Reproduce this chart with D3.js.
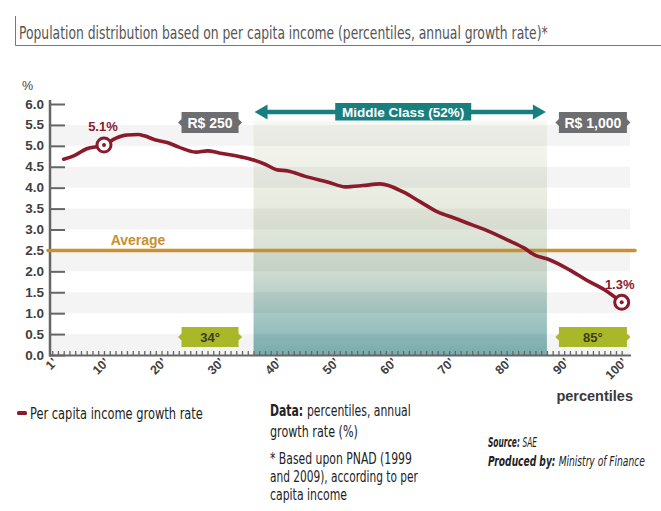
<!DOCTYPE html>
<html><head><meta charset="utf-8">
<script src="https://cdn.jsdelivr.net/npm/d3@7"></script>
<style>body{margin:0;background:#fff} svg{display:block}</style>
</head><body>
<svg id="c" width="661" height="511"></svg>
<script>
// ---- data ----
const percentiles = [3,5,7,10,12,14,16,17,19,21,23,26,28,30,34,36,38,40,42,45,49,52,55,58,62,65,68,71,74,76,80,83,85,87,91,94,97,100];
const growthRate  = [4.68,4.78,4.93,5.02,5.18,5.26,5.27,5.24,5.14,5.08,4.97,4.85,4.88,4.83,4.73,4.66,4.56,4.43,4.40,4.27,4.13,4.02,4.05,4.09,3.90,3.66,3.42,3.27,3.11,3.01,2.76,2.56,2.38,2.30,2.03,1.78,1.56,1.26];
const yTicks = [0,0.5,1,1.5,2,2.5,3,3.5,4,4.5,5,5.5,6];
const xTickLabels = [1,10,20,30,40,50,60,70,80,90,100];
const averageValue = 2.5;
const middleClassRange = [36, 87];
const highlightPercentiles = [10, 100];
const highlightLabels = ["5.1%", "1.3%"];
const incomeLabels = ["R$ 250", "R$ 1,000"];
const percentileLabels = ["34\u00b0", "85\u00b0"];

const NARROW = "'Liberation Sans Narrow','DejaVu Sans Condensed','Arial Narrow',sans-serif";
const BOLD = "'Liberation Sans',Arial,sans-serif";
const RED = "#8b1a2b", TEAL = "#17807f", GOLD = "#c8902e", AX = "#666";

const svg = d3.select("#c");
const x = d3.scaleLinear().domain([1,100]).range([52.2,621.7]);
const y = d3.scaleLinear().domain([0,6]).range([355,104]);
const plotL = 50, plotR = 630;

// gradient
const defs = svg.append("defs");
const g = defs.append("linearGradient").attr("id","mc").attr("x1",0).attr("y1",0).attr("x2",0).attr("y2",1);
[[0,"#f7f8f2"],[0.4,"#e6eadd"],[0.65,"#cddbd0"],[1,"#80b4b6"]].forEach(s=>g.append("stop").attr("offset",s[0]).attr("stop-color",s[1]));

// title
svg.append("path").attr("d","M15.5,16 V45.5 H661").attr("fill","none").attr("stroke","#777").attr("stroke-width",1);
function fitText(sel, tx, ty, w){
  const bw = sel.node().getComputedTextLength();
  sel.attr("transform",`translate(${tx},${ty}) scale(${w/bw},1)`);
}
const title = svg.append("text").attr("font-family",NARROW).attr("font-size",17.5).attr("fill","#555")
  .text("Population distribution based on per capita income (percentiles, annual growth rate)*");
fitText(title,19,38.5,529);

// middle class shading
svg.append("rect").attr("x",x(middleClassRange[0])).attr("width",x(middleClassRange[1])-x(middleClassRange[0]))
  .attr("y",y(5.6)).attr("height",y(0)-y(5.6)).attr("fill","url(#mc)");

// bands
for(let i=0;i<yTicks.length-1;i+=2){
  svg.append("rect").attr("x",plotL).attr("width",plotR-plotL).attr("y",y(yTicks[i+1])).attr("height",y(yTicks[i])-y(yTicks[i+1]))
    .attr("fill","#000").attr("opacity",0.045);
}

// y axis
const yAxis = d3.axisRight(y).tickValues(yTicks).tickSize(15).tickFormat("");
const ya = svg.append("g").attr("transform",`translate(${plotL},0)`).call(yAxis);
ya.select(".domain").remove();
ya.selectAll("line").attr("stroke",AX).attr("stroke-width",2);
svg.append("line").attr("x1",plotL).attr("x2",plotL).attr("y1",100).attr("y2",356.5).attr("stroke",AX).attr("stroke-width",2.5);
svg.selectAll(".ylab").data(yTicks).join("text").attr("class","ylab")
  .attr("x",44).attr("y",d=>y(d)+4.5).attr("text-anchor","end")
  .attr("font-family",BOLD).attr("font-weight","bold").attr("font-size",13.5).attr("fill","#404040")
  .text(d=>d.toFixed(1));
svg.append("text").attr("x",22).attr("y",90).attr("font-family",BOLD).attr("font-size",12.5).attr("fill","#444").text("%");

// x axis
const allP = d3.range(1,101);
const xAxis = d3.axisTop(x).tickValues(allP).tickSize(4).tickFormat("");
const xa = svg.append("g").attr("transform","translate(0,355)").call(xAxis);
xa.select(".domain").remove();
xa.selectAll("line").attr("stroke",AX).attr("stroke-width",1.3);
svg.append("line").attr("x1",plotL-1).attr("x2",plotR+1).attr("y1",355.5).attr("y2",355.5).attr("stroke",AX).attr("stroke-width",2);
svg.selectAll(".xlab").data(xTickLabels).join("text").attr("class","xlab")
  .attr("transform",d=>`translate(${x(d)+6},${363}) rotate(-45)`).attr("text-anchor","end")
  .attr("font-family",BOLD).attr("font-weight","bold").attr("font-size",12.5).attr("fill","#404040")
  .text(d=>d+"\u2019");
svg.append("text").attr("x",633).attr("y",401).attr("text-anchor","end").attr("font-family",BOLD)
  .attr("font-weight","bold").attr("font-size",14.5).attr("fill","#3a3a3a").text("percentiles");

// average line
svg.append("line").attr("x1",48).attr("x2",635).attr("y1",y(averageValue)).attr("y2",y(averageValue))
  .attr("stroke",GOLD).attr("stroke-width",3.5).attr("stroke-linecap","round");
svg.append("text").attr("x",138).attr("y",y(averageValue)-5.5).attr("text-anchor","middle")
  .attr("font-family",BOLD).attr("font-weight","bold").attr("font-size",14).attr("fill",GOLD).text("Average");

// middle class arrow
const ax0 = x(middleClassRange[0]), ax1 = x(middleClassRange[1]), ay = 112;
svg.append("line").attr("x1",ax0+10).attr("x2",ax1-10).attr("y1",ay).attr("y2",ay).attr("stroke",TEAL).attr("stroke-width",4.5);
svg.append("path").attr("d",`M${ax0+1},${ay} L${ax0+14},${ay-7.5} L${ax0+14},${ay+7.5}Z M${ax1-1},${ay} L${ax1-14},${ay-7.5} L${ax1-14},${ay+7.5}Z`).attr("fill",TEAL);
const mcx = (ax0+ax1)/2 + 3;
svg.append("rect").attr("x",mcx-68).attr("y",103).attr("width",136).attr("height",17.5).attr("fill",TEAL);
svg.append("text").attr("x",mcx).attr("y",116.5).attr("text-anchor","middle").attr("font-family",BOLD)
  .attr("font-weight","bold").attr("font-size",13.5).attr("fill","#fff").text("Middle Class (52%)");

// tag boxes
function tag(x0,x1,y0,y1,fill,label,tcol,fs){
  const ym=(y0+y1)/2, n=3.5;
  svg.append("path").attr("d",`M${x0},${y0} H${x1} V${ym-n} L${x1+n},${ym} L${x1},${ym+n} V${y1} H${x0} V${ym+n} L${x0-n},${ym} L${x0},${ym-n}Z`).attr("fill",fill);
  svg.append("text").attr("x",(x0+x1)/2).attr("y",ym+5).attr("text-anchor","middle").attr("font-family",BOLD)
    .attr("font-weight","bold").attr("font-size",fs).attr("fill",tcol).text(label);
}
const lb1 = ax0-15, rb0 = ax1+12;
tag(lb1-57,lb1,112,133,"#6d6e70",incomeLabels[0],"#fff",14);
tag(rb0,rb0+68,112,133,"#6d6e70",incomeLabels[1],"#fff",14);
tag(lb1-57,lb1,327,347,"#a9b829",percentileLabels[0],"#3c3c1c",13);
tag(rb0,rb0+68,327,347,"#a9b829",percentileLabels[1],"#3c3c1c",13);

// line
const pts = percentiles.map((p,i)=>[p,growthRate[i]]);
svg.append("path").datum(pts).attr("fill","none").attr("stroke",RED).attr("stroke-width",3.6)
  .attr("stroke-linejoin","round").attr("stroke-linecap","round")
  .attr("d",d3.line().x(d=>x(d[0])).y(d=>y(d[1])).curve(d3.curveMonotoneX));

// highlight markers
highlightPercentiles.forEach((p,i)=>{
  const v = growthRate[percentiles.indexOf(p)];
  const cx = x(p), cy = y(v);
  svg.append("circle").attr("cx",cx).attr("cy",cy).attr("r",7).attr("fill","#fff").attr("stroke",RED).attr("stroke-width",3);
  svg.append("circle").attr("cx",cx).attr("cy",cy).attr("r",2).attr("fill",RED);
  svg.append("text").attr("x",cx-(i?2:1)).attr("y",cy-13.5).attr("text-anchor","middle").attr("font-family",BOLD)
    .attr("font-weight","bold").attr("font-size",13).attr("fill",RED).text(highlightLabels[i]);
});

// legend
svg.append("rect").attr("x",17).attr("y",411).attr("width",10).attr("height",4).attr("rx",1.5).attr("fill",RED);
const leg = svg.append("text").attr("font-family",NARROW).attr("font-size",15.5).attr("fill","#222").text("Per capita income growth rate");
fitText(leg,30,419,173);

// notes
function mixed(parts, tx, ty, w, fs, italic){
  const t = svg.append("text").attr("font-family",NARROW).attr("font-size",fs).attr("fill","#222");
  if(italic) t.attr("font-style","italic");
  parts.forEach(p=>t.append("tspan").attr("font-weight",p[1]?"bold":"normal").text(p[0]));
  fitText(t,tx,ty,w);
}
mixed([["Data: ",1],["percentiles, annual",0]],270,416,141,15.5);
mixed([["growth rate (%)",0]],270,437,88,15.5);
mixed([["* Based upon PNAD (1999",0]],270,464,142,15.5);
mixed([["and 2009), according to per",0]],270,482,148,15.5);
mixed([["capita income",0]],270,500,77,15.5);
mixed([["Source: ",1],["SAE",0]],488,447,49,13.5,true);
mixed([["Produced by: ",1],["Ministry of Finance",0]],488,466,157,13.5,true);
</script>
</body></html>
